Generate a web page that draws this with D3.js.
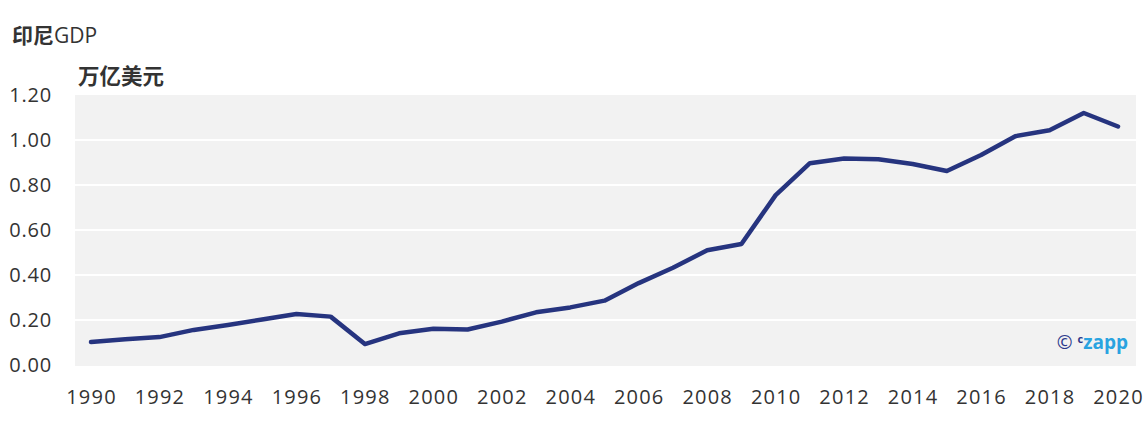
<!DOCTYPE html>
<html><head><meta charset="utf-8">
<script src="https://cdn.jsdelivr.net/npm/d3@7"></script>
<style>body{margin:0;background:#fff;}svg{display:block;font-family:"Open Sans","Noto Sans CJK SC",sans-serif;}</style>
</head><body><svg id="c" width="1148" height="426"></svg>
<script>
const years = d3.range(1990, 2021);
const gdp = [0.102,0.114,0.124,0.156,0.178,0.202,0.227,0.215,0.093,0.141,0.161,0.158,0.193,0.234,0.256,0.286,0.364,0.432,0.510,0.538,0.755,0.897,0.918,0.914,0.893,0.862,0.933,1.017,1.043,1.120,1.060];
const yTicks = [0,0.2,0.4,0.6,0.8,1.0,1.2];
const xTicks = d3.range(1990, 2021, 2);
const titleBold = "印尼", titleRest = "GDP", unit = "万亿美元";

const svg = d3.select("#c");
const x = d3.scaleLinear().domain([1990,2020]).range([91,1118]);
const y = d3.scaleLinear().domain([0,1.2]).range([365,95]);

svg.append("rect").attr("x",75).attr("y",95).attr("width",1061).attr("height",271).attr("fill","#f2f2f2");
svg.selectAll("line.g").data(yTicks.filter(d=>d>0 && d<1.2)).enter().append("line")
  .attr("x1",75).attr("x2",1136).attr("y1",d=>y(d)).attr("y2",d=>y(d))
  .attr("stroke","#fff").attr("stroke-width",2);

const ya = svg.append("g").attr("transform","translate(52,0)")
  .call(d3.axisLeft(y).tickValues(yTicks).tickFormat(d3.format(".2f")).tickSize(0).tickPadding(0));
ya.select(".domain").remove();
ya.selectAll("text").attr("font-size",20).attr("fill","#333").attr("font-family","Open Sans")
  .attr("letter-spacing","0.8px").attr("dy","0.3em");

const xa = svg.append("g").attr("transform","translate(0,390)")
  .call(d3.axisBottom(x).tickValues(xTicks).tickFormat(d3.format("d")).tickSize(0).tickPadding(0));
xa.select(".domain").remove();
xa.selectAll("text").attr("font-size",20).attr("fill","#333").attr("font-family","Open Sans")
  .attr("letter-spacing","1.2px").attr("dy","0.71em");

svg.append("path").datum(years.map((d,i)=>[d,gdp[i]]))
  .attr("d", d3.line().x(d=>x(d[0])).y(d=>y(d[1])))
  .attr("fill","none").attr("stroke","#26347f").attr("stroke-width",4.5)
  .attr("stroke-linejoin","round").attr("stroke-linecap","round");

const t = svg.append("text").attr("x",12).attr("y",43).attr("font-size",21).attr("fill","#333");
t.append("tspan").text(titleBold).attr("font-weight","bold");
t.append("tspan").text(titleRest).attr("font-weight","normal");
svg.append("text").attr("x",78).attr("y",84).text(unit)
  .attr("font-size",21.5).attr("font-weight","bold").attr("fill","#333");

const wm = svg.append("text").attr("x",1128).attr("y",349).attr("text-anchor","end")
  .attr("font-size",19).attr("font-weight","bold");
wm.append("tspan").text("© ").attr("fill","#2c3a8c").attr("font-weight","normal");
wm.append("tspan").text("c").attr("fill","#2c3a8c").attr("font-size",11).attr("dy",-6);
wm.append("tspan").text("zapp").attr("fill","#29a3e0").attr("dy",6);
</script></body></html>
